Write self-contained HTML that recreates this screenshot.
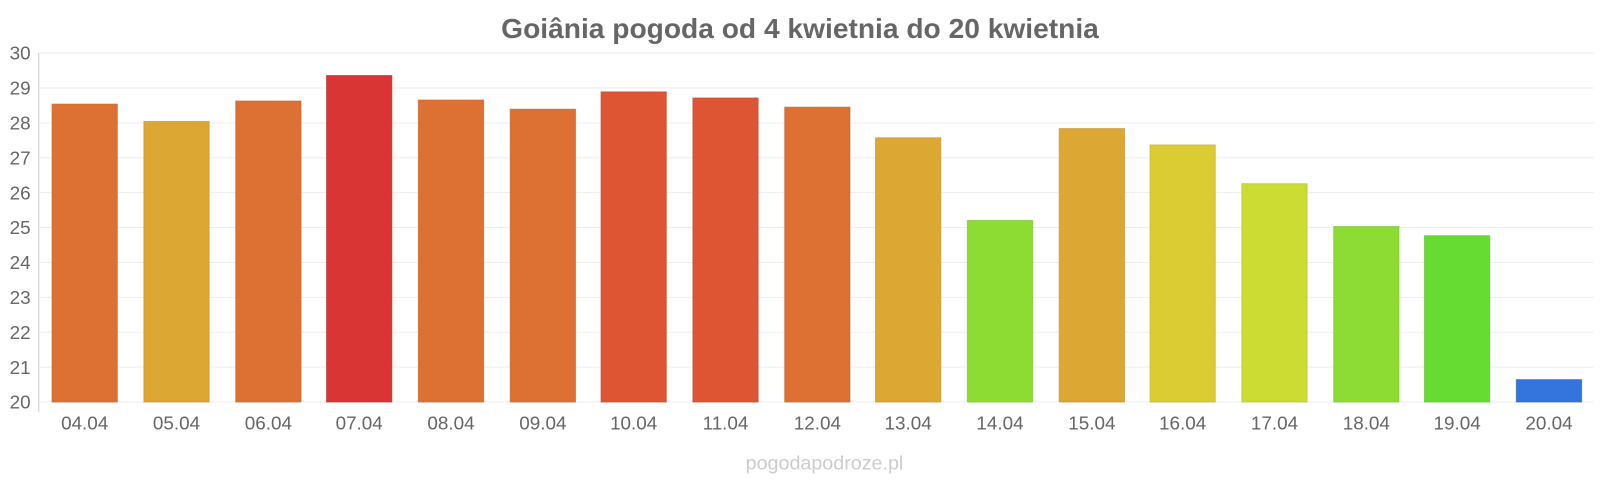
<!DOCTYPE html>
<html><head><meta charset="utf-8"><style>body{margin:0;background:#fff}svg{display:block}</style></head><body>
<svg width="1600" height="480" viewBox="0 0 1568 470.4" xmlns="http://www.w3.org/2000/svg" font-family="Liberation Sans, sans-serif">
<text x="784" y="37" text-anchor="middle" font-size="27.6" font-weight="bold" fill="#666">Goiânia pogoda od 4 kwietnia do 20 kwietnia</text>
<g stroke="#eee" stroke-width="1">
<line x1="38" x2="1562" y1="52" y2="52"/><line x1="38" x2="1562" y1="86.2" y2="86.2"/><line x1="38" x2="1562" y1="120.4" y2="120.4"/><line x1="38" x2="1562" y1="154.6" y2="154.6"/><line x1="38" x2="1562" y1="188.8" y2="188.8"/><line x1="38" x2="1562" y1="223" y2="223"/><line x1="38" x2="1562" y1="257.2" y2="257.2"/><line x1="38" x2="1562" y1="291.4" y2="291.4"/><line x1="38" x2="1562" y1="325.6" y2="325.6"/><line x1="38" x2="1562" y1="359.8" y2="359.8"/><line x1="38" x2="1562" y1="394" y2="394"/>
</g>
<line x1="38" x2="38" y1="52" y2="404" stroke="#ccc"/>
<g font-size="18.5" fill="#666" text-anchor="end">
<text x="30" y="58.5">30</text><text x="30" y="92.7">29</text><text x="30" y="126.9">28</text><text x="30" y="161.1">27</text><text x="30" y="195.3">26</text><text x="30" y="229.5">25</text><text x="30" y="263.7">24</text><text x="30" y="297.9">23</text><text x="30" y="332.1">22</text><text x="30" y="366.3">21</text><text x="30" y="400.5">20</text>
</g>
<g stroke-opacity="0.6">
<rect x="51" y="102" width="64" height="292" fill="#dd7033" stroke="#c0602a"/>
<rect x="141" y="119" width="64" height="275" fill="#dca833" stroke="#c0902a"/>
<rect x="231" y="99" width="64" height="295" fill="#dd7033" stroke="#c0602a"/>
<rect x="320" y="74" width="64" height="320" fill="#d93535" stroke="#b82a2a"/>
<rect x="410" y="98" width="64" height="296" fill="#dd7033" stroke="#c0602a"/>
<rect x="500" y="107" width="64" height="287" fill="#dd7033" stroke="#c0602a"/>
<rect x="589" y="90" width="64" height="304" fill="#dd5533" stroke="#c0462a"/>
<rect x="679" y="96" width="64" height="298" fill="#dd5533" stroke="#c0462a"/>
<rect x="769" y="105" width="64" height="289" fill="#dd7033" stroke="#c0602a"/>
<rect x="858" y="135" width="64" height="259" fill="#dca833" stroke="#c0902a"/>
<rect x="948" y="216" width="64" height="178" fill="#8ddc33" stroke="#78c02a"/>
<rect x="1038" y="126" width="64" height="268" fill="#dca833" stroke="#c0902a"/>
<rect x="1127" y="142" width="64" height="252" fill="#dccc33" stroke="#c0b02a"/>
<rect x="1217" y="180" width="64" height="214" fill="#ccdc33" stroke="#b0c02a"/>
<rect x="1307" y="222" width="64" height="172" fill="#8ddc33" stroke="#78c02a"/>
<rect x="1396" y="231" width="64" height="163" fill="#66dc33" stroke="#55c02a"/>
<rect x="1486" y="372" width="64" height="22" fill="#3375dc" stroke="#2a62c0"/>
</g>
<g font-size="18.5" fill="#666" text-anchor="middle">
<text x="83" y="421">04.04</text><text x="173" y="421">05.04</text><text x="263" y="421">06.04</text><text x="352" y="421">07.04</text><text x="442" y="421">08.04</text><text x="532" y="421">09.04</text><text x="621" y="421">10.04</text><text x="711" y="421">11.04</text><text x="801" y="421">12.04</text><text x="890" y="421">13.04</text><text x="980" y="421">14.04</text><text x="1070" y="421">15.04</text><text x="1159" y="421">16.04</text><text x="1249" y="421">17.04</text><text x="1339" y="421">18.04</text><text x="1428" y="421">19.04</text><text x="1518" y="421">20.04</text>
</g>
<text x="808" y="460" text-anchor="middle" font-size="19.3" fill="#ccc">pogodapodroze.pl</text>
</svg>
</body></html>
